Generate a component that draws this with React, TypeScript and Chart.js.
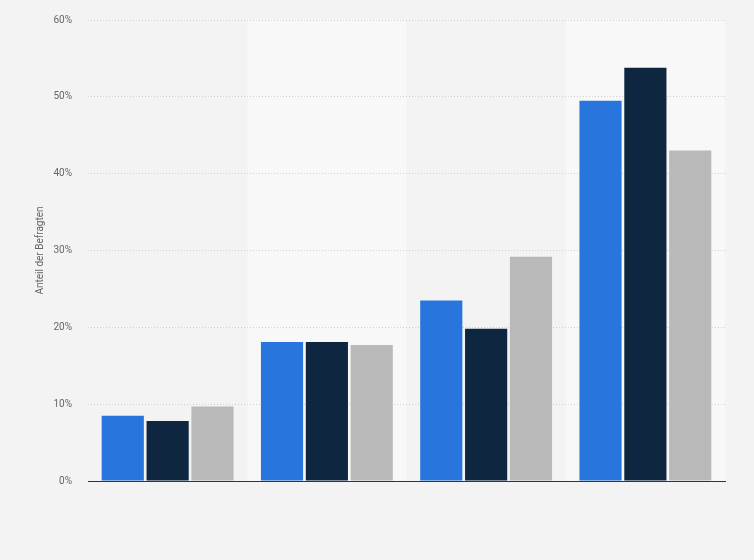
import React, { useEffect, useRef } from "react";
import { Chart, ChartConfiguration, Plugin } from "chart.js/auto";

// values (percent of respondents)
const categories = ["Gruppe 1", "Gruppe 2", "Gruppe 3", "Gruppe 4"];
const seriesA = [8.5, 18.1, 23.5, 49.5];
const seriesB = [7.8, 18.1, 19.8, 53.8];
const seriesC = [9.7, 17.7, 29.2, 43.0];
const seriesNames = ["Serie A", "Serie B", "Serie C"];
const seriesColors = ["#2876dd", "#0f2640", "#b9b9b9"];

const fontFamily = "Roboto, 'Liberation Sans', Arial, sans-serif";

// lighter background band behind every second category
const bandPlugin: Plugin<"bar"> = {
  id: "bands",
  beforeDraw(chart) {
    const { ctx, chartArea, scales } = chart;
    const x = scales.x;
    const step = x.width / categories.length;
    ctx.save();
    ctx.fillStyle = "#f8f8f8";
    categories.forEach((_, i) => {
      if (i % 2 === 1) {
        const center = x.getPixelForValue(i);
        ctx.fillRect(center - step / 2, chartArea.top, step, chartArea.bottom - chartArea.top);
      }
    });
    ctx.restore();
  },
};

const App: React.FC = () => {
  const chartRef = useRef<HTMLCanvasElement | null>(null);

  useEffect(() => {
    if (!chartRef.current) return;
    const context = chartRef.current.getContext("2d");
    if (!context) return;

    const config: ChartConfiguration<"bar"> = {
      type: "bar",
      data: {
        labels: categories,
        datasets: [seriesA, seriesB, seriesC].map((data, i) => ({
          label: seriesNames[i],
          data,
          backgroundColor: seriesColors[i],
          categoryPercentage: 0.845,
          barPercentage: 0.94,
        })),
      },
      options: {
        responsive: true,
        maintainAspectRatio: false,
        animation: false,
        layout: { padding: { top: 20, right: 29, bottom: 71, left: 0 } },
        plugins: {
          legend: { display: false },
          tooltip: { enabled: false },
        },
        scales: {
          x: {
            grid: { display: false },
            ticks: { display: false },
            border: { display: true, color: "#333333", width: 1 },
          },
          y: {
            min: 0,
            max: 60,
            ticks: {
              stepSize: 10,
              padding: 16,
              color: "#666666",
              font: { family: fontFamily, size: 10 },
              callback: (v) => `${v}%`,
            },
            grid: {
              color: "#cfcfcf",
              drawTicks: false,
            },
            border: { display: false, dash: [1, 2] },
            title: {
              display: true,
              text: "Anteil der Befragten",
              color: "#666666",
              font: { family: fontFamily, size: 10 },
              padding: { top: 34, bottom: 0 },
            },
            afterFit: (scale) => {
              scale.width = 88;
              scale.paddingTop = 0;
            },
          },
        },
      },
      plugins: [bandPlugin],
    };

    const chart = new Chart(context, config);
    return () => {
      chart.destroy();
    };
  }, []);

  return (
    <div
      style={{
        position: "fixed",
        left: 0,
        top: 0,
        width: 754,
        height: 560,
        background: "#f3f3f3",
      }}
    >
      <canvas ref={chartRef} />
    </div>
  );
};

export default App;
